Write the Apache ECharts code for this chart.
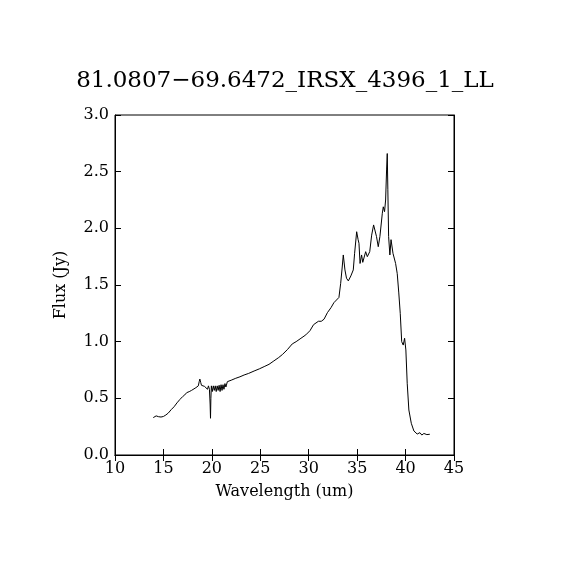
<!DOCTYPE html>
<html>
<head>
<meta charset="utf-8">
<script src="https://cdn.jsdelivr.net/npm/echarts@6/dist/echarts.min.js"></script>
<style>
html,body{margin:0;padding:0;background:#fff;}
#main{width:570px;height:570px;}
</style>
</head>
<body>
<div id="main"></div>
<script>
var titleText='81.0807\u221269.6472_IRSX_4396_1_LL';
var xTicks=[10,15,20,25,30,35,40,45];
var yTicks=[0.0,0.5,1.0,1.5,2.0,2.5,3.0];
// wavelength (um)
var wavelength=[13.95,14.1,14.25,14.5,14.75,15.0,15.25,15.5,15.8,16.1,16.4,16.7,16.98,17.2,17.4,17.66,17.9,18.1,18.35,18.6,18.7,18.76,18.85,18.93,19.1,19.25,19.35,19.45,19.55,19.65,19.75,19.82,19.86,19.9,19.95,20.05,20.15,20.25,20.35,20.45,20.55,20.65,20.75,20.85,20.95,21.05,21.15,21.25,21.35,21.45,21.6,21.8,22.0,22.47,22.9,23.33,23.8,24.36,24.9,25.4,25.9,26.4,26.9,27.3,27.8,28.3,28.7,29.2,29.7,30.13,30.5,31.0,31.3,31.58,31.93,32.3,32.6,33.12,33.3,33.45,33.57,33.74,33.9,34.09,34.35,34.6,34.74,34.95,35.1,35.19,35.3,35.46,35.58,35.7,35.88,36.05,36.3,36.5,36.7,36.8,37.0,37.18,37.35,37.6,37.7,37.83,37.94,38.04,38.11,38.17,38.25,38.38,38.5,38.6,38.7,38.97,39.14,39.3,39.45,39.6,39.76,39.9,40.03,40.17,40.34,40.59,40.86,41.2,41.48,41.68,41.89,42.2,42.5];
// flux (Jy)
var flux=[0.33,0.335,0.345,0.338,0.335,0.34,0.353,0.37,0.40,0.426,0.46,0.49,0.515,0.53,0.55,0.559,0.57,0.58,0.594,0.61,0.65,0.67,0.64,0.615,0.61,0.605,0.59,0.61,0.58,0.61,0.58,0.45,0.324,0.5,0.61,0.56,0.61,0.57,0.61,0.56,0.61,0.57,0.615,0.56,0.62,0.57,0.62,0.58,0.63,0.60,0.647,0.65,0.66,0.677,0.69,0.706,0.72,0.741,0.76,0.78,0.80,0.83,0.86,0.888,0.93,0.98,1.0,1.03,1.06,1.097,1.15,1.18,1.18,1.198,1.256,1.3,1.344,1.39,1.515,1.65,1.765,1.633,1.56,1.536,1.58,1.633,1.78,1.97,1.9,1.868,1.69,1.765,1.70,1.69,1.794,1.75,1.794,1.94,2.03,2.045,1.927,1.838,1.927,2.133,2.19,2.147,2.25,2.515,2.66,2.34,1.927,1.765,1.9,1.91,1.78,1.69,1.6,1.43,1.25,1.0,0.97,1.03,0.927,0.633,0.397,0.28,0.212,0.185,0.197,0.176,0.19,0.18,0.183];

showchart();
function showchart(){
    var myChart=echarts.init(document.getElementById('main'));
    var pts=[];
    for(var i=0;i<wavelength.length;i++){pts.push([wavelength[i],flux[i]]);}
    var font='DejaVu Serif';
    var option={
        backgroundColor:'#fff',
        animation:false,
        title:{
            text:titleText,
            left:'center',
            top:65,
            textStyle:{fontFamily:font,fontWeight:'normal',fontSize:23,color:'#000'}
        },
        grid:{left:115,right:116,top:115,bottom:115,show:true,borderColor:'#000',borderWidth:1},
        xAxis:[
            {
                type:'value',min:xTicks[0],max:xTicks[xTicks.length-1],interval:5,
                position:'bottom',
                name:'Wavelength (um)',nameLocation:'middle',nameGap:29,
                nameTextStyle:{fontFamily:font,fontSize:16,color:'#000'},
                axisLine:{show:true,lineStyle:{color:'#000'}},
                axisTick:{show:true,inside:true,length:6,lineStyle:{color:'#000'}},
                axisLabel:{fontFamily:font,fontSize:16,color:'#000',margin:6},
                splitLine:{show:false}
            },
            {
                type:'value',min:xTicks[0],max:xTicks[xTicks.length-1],interval:5,
                position:'top',
                axisLine:{show:true,lineStyle:{color:'#000'}},
                axisTick:{show:true,inside:true,length:6,lineStyle:{color:'#000'}},
                axisLabel:{show:false},
                splitLine:{show:false}
            }
        ],
        yAxis:[
            {
                type:'value',min:yTicks[0],max:yTicks[yTicks.length-1],interval:0.5,
                position:'left',
                name:'Flux (Jy)',nameLocation:'middle',nameGap:46,
                nameTextStyle:{fontFamily:font,fontSize:16,color:'#000'},
                axisLine:{show:true,lineStyle:{color:'#000'}},
                axisTick:{show:true,inside:true,length:6,lineStyle:{color:'#000'}},
                axisLabel:{fontFamily:font,fontSize:16,color:'#000',margin:6,
                    formatter:function(v){return v.toFixed(1);}},
                splitLine:{show:false}
            },
            {
                type:'value',min:yTicks[0],max:yTicks[yTicks.length-1],interval:0.5,
                position:'right',
                axisLine:{show:true,lineStyle:{color:'#000'}},
                axisTick:{show:true,inside:true,length:6,lineStyle:{color:'#000'}},
                axisLabel:{show:false},
                splitLine:{show:false}
            }
        ],
        series:[
            {
                type:'line',
                data:pts,
                xAxisIndex:0,yAxisIndex:0,
                showSymbol:false,
                lineStyle:{color:'#000',width:1},
                silent:true
            }
        ]
    };
    myChart.setOption(option);
}
</script>
</body>
</html>
